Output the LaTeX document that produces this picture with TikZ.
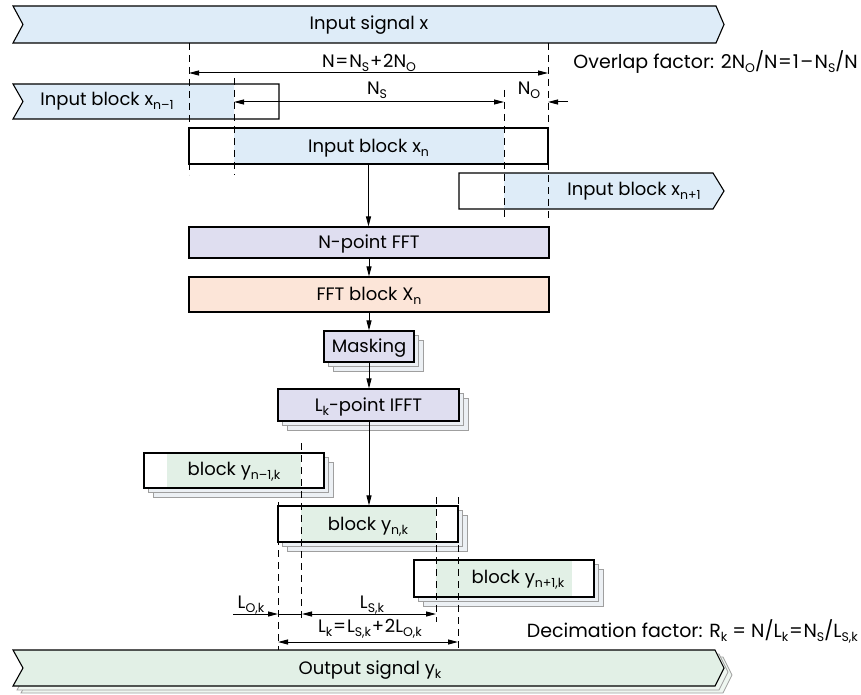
\documentclass[tikz,border=0pt]{standalone}
\usepackage{fontspec}
\setmainfont{Poppins}
\usetikzlibrary{arrows.meta}
\definecolor{cblue}{RGB}{222,236,248}
\definecolor{clav}{RGB}{223,222,240}
\definecolor{cpeach}{RGB}{252,229,216}
\definecolor{cgreen}{RGB}{226,240,230}
\definecolor{cshd}{RGB}{236,240,244}
\newcommand\sbs[1]{\raisebox{-4pt}{\fontsize{12.5}{13}\selectfont #1}}
\newcommand\eqk{\kern0.8pt=\kern0.8pt}
\newcommand\plk{\kern0.8pt+\kern0.8pt}
\begin{document}
\begin{tikzpicture}[x=1pt,y=-1pt,
  every node/.style={font=\fontsize{18}{20}\selectfont, inner sep=0pt, text height=12.5pt, text depth=0pt},
  side/.style={font=\fontsize{19}{21}\selectfont, anchor=east},
  box/.style={draw=black, line width=1.1pt},
  guide/.style={draw=black, line width=1pt, dash pattern=on 7pt off 5pt},
  arr/.style={-{Triangle[length=10pt,width=5pt]}, line width=1pt},
  darr/.style={{Triangle[length=10pt,width=5pt]}-{Triangle[length=10pt,width=5pt]}, line width=1pt},
  shd/.style={draw=gray!75, fill=cshd, line width=0.8pt}
]
\useasboundingbox (0,0) rectangle (861,695);

% ---------- input signal ----------
\draw[box, fill=cblue] (13,6) -- (716,6) -- (724,24.5) -- (716,43) -- (13,43) -- (23,24.5) -- cycle;
\node (insig) at (369,23) {Input signal x};

% input block n-1
\fill[cblue] (13,84) -- (234,84) -- (234,119) -- (13,119) -- (23,101.5) -- cycle;
\draw[box] (13,84) -- (279,84) -- (279,119) -- (13,119) -- (23,101.5) -- cycle;
\node (xm1) at (107,99.5) {Input block x\sbs{n–1}};

% input block n
\fill[cblue] (234,128) rectangle (504,164);
\node[box, minimum width=359pt, minimum height=36pt] (xn) at (368.5,146) {Input block x\sbs{n}};

% input block n+1
\fill[cblue] (504,173) -- (713,173) -- (724,191) -- (713,209) -- (504,209) -- cycle;
\draw[box] (459,173) -- (713,173) -- (724,191) -- (713,209) -- (459,209) -- cycle;
\node (xp1) at (634,189) {Input block x\sbs{n+1}};

% top guides
\draw[guide] (189,43) -- (189,175);
\draw[guide] (234,78) -- (234,175);
\draw[guide] (504,90) -- (504,218);
\draw[guide] (548,43) -- (548,218);

% top dimensions
\draw[darr] (189,73) -- (548,73);
\node (lN) at (369,61) {N\eqk N\sbs{S}\plk 2N\sbs{O}};
\draw[darr] (234,102) -- (504,102);
\node (lNS) at (377,88) {N\sbs{S}};
\draw[arr] (568,102) -- (548,102);
\node (lNO) at (529,88) {N\sbs{O}};
\node[side] (ovl) at (858,62) {Overlap factor: 2N\sbs{O}/N\eqk 1\kern1.5pt–\kern1.5pt N\sbs{S}/N};

% ---------- processing chain ----------
\node[box, fill=clav, minimum width=360pt, minimum height=31pt] (fft) at (369,242.5) {N-point FFT};
\node[box, fill=cpeach, minimum width=360pt, minimum height=35pt] (X) at (369,294.5) {FFT block X\sbs{n}};

\foreach \d in {9,4.5} \draw[shd] (324+\d,331+\d) rectangle (414+\d,362+\d);
\node[box, fill=clav, minimum width=90pt, minimum height=31pt] (mask) at (369,346.5) {Masking};

\foreach \d in {9,4.5} \draw[shd] (278+\d,389+\d) rectangle (459+\d,421+\d);
\node[box, fill=clav, minimum width=181pt, minimum height=32pt] (ifft) at (368.5,405) {L\sbs{k}-point IFFT};

\draw[arr] (xn.south) -- (xn.south |- fft.north);
\draw[arr] (fft.south) -- (X.north);
\draw[arr] (X.south) -- (mask.north);
\draw[arr] (mask.south) -- (ifft.north -| mask.south);

% ---------- output blocks ----------
\foreach \d in {9,4.5} \draw[shd] (144+\d,453+\d) rectangle (324+\d,488+\d);
\fill[white] (144,453) rectangle (324,488);
\fill[cgreen] (167,453) rectangle (301,488);
\node[box, minimum width=180pt, minimum height=35pt] (ym1) at (234,470.5) {};
\node (tym1) at (234,469) {block y\sbs{n–1,k}};

\foreach \d in {9,4.5} \draw[shd] (278+\d,506+\d) rectangle (458+\d,542+\d);
\fill[white] (278,506) rectangle (458,542);
\fill[cgreen] (301,506) rectangle (436,542);
\node[box, minimum width=180pt, minimum height=36pt] (yn) at (368,524) {};
\node (tyn) at (368,524) {block y\sbs{n,k}};

\foreach \d in {9,4.5} \draw[shd] (414+\d,560+\d) rectangle (594+\d,597+\d);
\fill[white] (414,560) rectangle (594,597);
\fill[cgreen] (436,560) rectangle (572,597);
\node[box, minimum width=180pt, minimum height=37pt] (yp1) at (504,578.5) {};
\node (typ1) at (518,577) {block y\sbs{n+1,k}};

\draw[arr] (ifft.south -| mask.south) -- (yn.north -| mask.south);

% lower guides
\draw[guide] (278,502) -- (278,650);
\draw[guide] (301,443) -- (301,622);
\draw[guide] (436,497) -- (436,622);
\draw[guide] (458,497) -- (458,650);

% ---------- output signal ----------
\foreach \d/\e in {8/7,4/4} \draw[shd, fill=cgreen!60!white] (13+\d,650+\e) -- (715+\d,650+\e) -- (724+\d,668+\e) -- (715+\d,686+\e) -- (13+\d,686+\e) -- (23+\d,668+\e) -- cycle;
\draw[box, fill=cgreen] (13,650) -- (715,650) -- (724,668) -- (715,686) -- (13,686) -- (23,668) -- cycle;
\node (outsig) at (370,668.5) {Output signal y\sbs{k}};

% bottom dimensions
\draw[arr] (233,614) -- (278,614);
\draw[line width=1pt] (278,614) -- (302,614);
\draw[darr] (302,614) -- (436,614);
\node (lLO) at (251,602) {L\sbs{O,k}};
\node (lLS) at (372,602) {L\sbs{S,k}};
\draw[darr] (278,642) -- (458,642);
\node (lLk) at (370,626) {L\sbs{k}\eqk L\sbs{S,k}\plk 2L\sbs{O,k}};
\node[side] (dec) at (858,631) {Decimation factor: R\sbs{k} = N/L\sbs{k}\eqk N\sbs{S}/L\sbs{S,k}};
\end{tikzpicture}
\end{document}
